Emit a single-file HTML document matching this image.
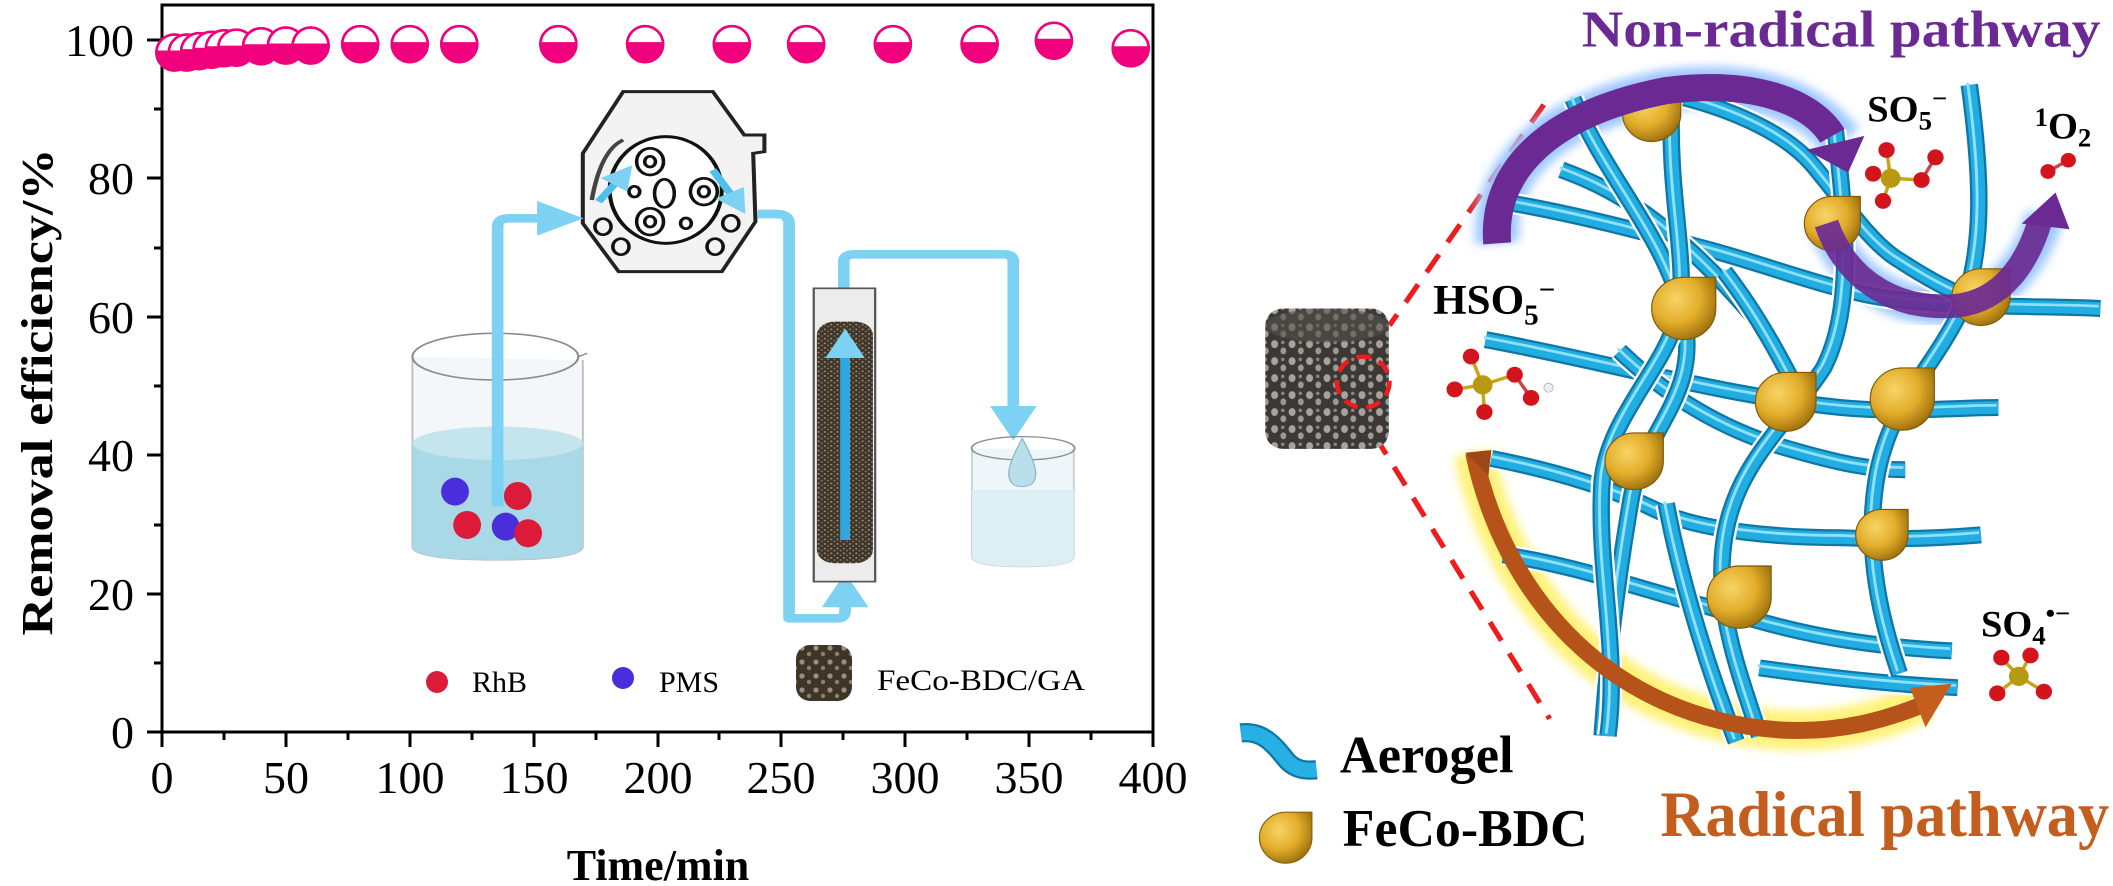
<!DOCTYPE html>
<html><head><meta charset="utf-8">
<style>
html,body{margin:0;padding:0;background:#fff;}
svg{display:block;}
</style></head>
<body>
<svg width="2113" height="886" viewBox="0 0 2113 886" xmlns="http://www.w3.org/2000/svg">
<defs>
  <radialGradient id="gold" cx="0.38" cy="0.35" r="0.7">
    <stop offset="0" stop-color="#f8d466"/>
    <stop offset="0.55" stop-color="#e2ad2a"/>
    <stop offset="1" stop-color="#9a6d0c"/>
  </radialGradient>
  <pattern id="gran" width="14" height="14" patternUnits="userSpaceOnUse">
    <rect width="14" height="14" fill="#3e3528"/>
    <circle cx="4" cy="4" r="2.6" fill="#9a8f7c"/>
    <circle cx="11" cy="10" r="2.2" fill="#8a806e"/>
  </pattern>
  <pattern id="gran2" width="30" height="30" patternUnits="userSpaceOnUse">
    <rect width="30" height="30" fill="#3b3836"/>
    <ellipse cx="8" cy="8" rx="6" ry="7" fill="#a7a39c"/>
    <ellipse cx="23" cy="20" rx="5" ry="6" fill="#9d9992"/>
    <circle cx="22" cy="5" r="3" fill="#8d8881"/>
  </pattern>
  <filter id="blur" x="-20%" y="-20%" width="140%" height="140%"><feGaussianBlur stdDeviation="8"/></filter>
  <marker id="ah" markerWidth="4" markerHeight="4" refX="2" refY="2" orient="auto" markerUnits="strokeWidth">
    <path d="M0,0 L4,2 L0,4 Z" fill="#7dd1f3"/>
  </marker>
</defs>

<!-- ================= PLOT ================= -->
<rect x="162" y="5" width="991" height="727" fill="none" stroke="#000" stroke-width="3"/>
<g stroke="#000" stroke-width="3">
  <line x1="147" y1="40" x2="162" y2="40"/><line x1="147" y1="178" x2="162" y2="178"/>
  <line x1="147" y1="317" x2="162" y2="317"/><line x1="147" y1="455" x2="162" y2="455"/>
  <line x1="147" y1="594" x2="162" y2="594"/><line x1="147" y1="732" x2="162" y2="732"/>
  <line x1="154" y1="109" x2="162" y2="109"/><line x1="154" y1="248" x2="162" y2="248"/>
  <line x1="154" y1="386" x2="162" y2="386"/><line x1="154" y1="525" x2="162" y2="525"/>
  <line x1="154" y1="663" x2="162" y2="663"/>
  <line x1="162" y1="732" x2="162" y2="747"/><line x1="286" y1="732" x2="286" y2="747"/>
  <line x1="410" y1="732" x2="410" y2="747"/><line x1="534" y1="732" x2="534" y2="747"/>
  <line x1="658" y1="732" x2="658" y2="747"/><line x1="781" y1="732" x2="781" y2="747"/>
  <line x1="905" y1="732" x2="905" y2="747"/><line x1="1029" y1="732" x2="1029" y2="747"/>
  <line x1="1153" y1="732" x2="1153" y2="747"/>
  <line x1="224" y1="732" x2="224" y2="740"/><line x1="348" y1="732" x2="348" y2="740"/>
  <line x1="472" y1="732" x2="472" y2="740"/><line x1="596" y1="732" x2="596" y2="740"/>
  <line x1="719" y1="732" x2="719" y2="740"/><line x1="843" y1="732" x2="843" y2="740"/>
  <line x1="967" y1="732" x2="967" y2="740"/><line x1="1091" y1="732" x2="1091" y2="740"/>
</g>
<g font-family="Liberation Serif, serif" font-size="46" fill="#000" text-anchor="end">
  <text x="134" y="56">100</text><text x="134" y="194">80</text><text x="134" y="333">60</text>
  <text x="134" y="471">40</text><text x="134" y="610">20</text><text x="134" y="748">0</text>
</g>
<g font-family="Liberation Serif, serif" font-size="46" fill="#000" text-anchor="middle">
  <text x="162" y="793">0</text><text x="286" y="793">50</text><text x="410" y="793">100</text>
  <text x="534" y="793">150</text><text x="658" y="793">200</text><text x="781" y="793">250</text>
  <text x="905" y="793">300</text><text x="1029" y="793">350</text><text x="1153" y="793">400</text>
</g>
<text x="658" y="880" font-family="Liberation Serif, serif" font-weight="bold" font-size="44" text-anchor="middle">Time/min</text>
<text transform="translate(52,392) rotate(-90)" font-family="Liberation Serif, serif" font-weight="bold" font-size="44" text-anchor="middle" textLength="487" lengthAdjust="spacingAndGlyphs">Removal efficiency/%</text>

<g id="pts" stroke="#f0007d" stroke-width="2.5"></g>

<!-- ================= INSET ================= -->
<g transform="translate(390,90) scale(0.4484,0.3333)">
  <path d="M50,800 L50,1370 Q50,1410 240,1410 Q430,1410 430,1370 L430,810" fill="#f4f7f9" stroke="#b8bcc0" stroke-width="4"/>
  <path d="M50,1060 L50,1370 Q50,1410 240,1410 Q430,1410 430,1370 L430,1060 Z" fill="#a9d8e6"/>
  <ellipse cx="240" cy="1060" rx="190" ry="50" fill="#c4e4ee"/>
  <ellipse cx="235" cy="800" rx="185" ry="70" fill="none" stroke="#8a8e92" stroke-width="5"/>
  <path d="M420,800 L440,790" stroke="#8a8e92" stroke-width="4"/>
  <polygon points="525,5 720,5 790,135 835,135 835,185 810,190 815,395 740,545 510,545 430,400 430,190 520,5" fill="#f3f3f3" stroke="#222" stroke-width="9"/>
  <path d="M450,330 Q470,180 520,150" stroke="#444" stroke-width="10" fill="none"/>
  <ellipse cx="615" cy="300" rx="125" ry="160" fill="#fff" stroke="#111" stroke-width="9"/>
  <g fill="none" stroke="#111" stroke-width="8">
    <ellipse cx="580" cy="215" rx="30" ry="40"/><ellipse cx="580" cy="215" rx="12" ry="16"/>
    <ellipse cx="700" cy="305" rx="30" ry="40"/><ellipse cx="700" cy="305" rx="12" ry="16"/>
    <ellipse cx="580" cy="395" rx="30" ry="40"/><ellipse cx="580" cy="395" rx="12" ry="16"/>
    <ellipse cx="612" cy="310" rx="22" ry="42"/>
    <ellipse cx="545" cy="305" rx="12" ry="16"/><ellipse cx="660" cy="400" rx="12" ry="16"/>
    <ellipse cx="475" cy="410" rx="18" ry="24"/><ellipse cx="515" cy="470" rx="18" ry="24"/>
    <ellipse cx="760" cy="400" rx="18" ry="24"/><ellipse cx="725" cy="470" rx="18" ry="24"/>
  </g>
  <line x1="465" y1="335" x2="520" y2="255" stroke="#4fc0ec" stroke-width="18" marker-end="url(#ah)"/>
  <line x1="720" y1="240" x2="775" y2="340" stroke="#4fc0ec" stroke-width="18" marker-end="url(#ah)"/>
  <g fill="none" stroke="#7dd1f3" stroke-width="26" stroke-linejoin="round">
    <path d="M240,1250 L240,410 Q240,385 265,385 L380,385" marker-end="url(#ah)"/>
    <path d="M820,372 L860,372 Q890,372 890,400 L890,1585 L1000,1585 Q1015,1585 1015,1560 L1015,1500" marker-end="url(#ah)"/>
    <path d="M1012,600 L1012,515 Q1012,493 1035,493 L1370,493 Q1390,493 1390,515 L1390,1000" marker-end="url(#ah)"/>
  </g>
  <rect x="945" y="595" width="137" height="880" fill="#ececec" stroke="#555" stroke-width="5"/>
  <rect x="952" y="695" width="125" height="725" rx="40" fill="url(#gran)"/>
  <line x1="1015" y1="1350" x2="1015" y2="760" stroke="#2fa8de" stroke-width="22" marker-end="url(#ah)"/>
  <path d="M1298,1075 L1298,1400 Q1298,1430 1410,1430 Q1525,1430 1525,1400 L1525,1080" fill="#eef6f9" stroke="#c4d0d6" stroke-width="4"/>
  <path d="M1298,1200 L1298,1400 Q1298,1430 1410,1430 Q1525,1430 1525,1400 L1525,1200 Z" fill="#ddeff5"/>
  <ellipse cx="1412" cy="1075" rx="115" ry="35" fill="none" stroke="#8a8e92" stroke-width="4"/>
  <path d="M1410,1045 Q1380,1120 1380,1150 Q1380,1190 1410,1190 Q1440,1190 1440,1150 Q1440,1120 1410,1045 Z" fill="#b8dfea" stroke="#8fb7c4" stroke-width="3"/>
  <ellipse cx="145" cy="1205" rx="31" ry="42" fill="#4a2ddb"/>
  <ellipse cx="285" cy="1218" rx="31" ry="42" fill="#dc1b3a"/>
  <ellipse cx="172" cy="1305" rx="31" ry="42" fill="#dc1b3a"/>
  <ellipse cx="258" cy="1310" rx="31" ry="42" fill="#4a2ddb"/>
  <ellipse cx="308" cy="1330" rx="31" ry="42" fill="#dc1b3a"/>
</g>

<circle cx="437" cy="682" r="11" fill="#dc1b3a"/>
<text x="472" y="692" font-family="Liberation Serif, serif" font-size="30">RhB</text>
<circle cx="623" cy="678" r="11" fill="#4a2ddb"/>
<text x="659" y="692" font-family="Liberation Serif, serif" font-size="30">PMS</text>
<rect x="796" y="645" width="56" height="56" rx="14" fill="url(#gran)"/>
<text x="877" y="690" font-family="Liberation Serif, serif" font-size="30" textLength="208" lengthAdjust="spacingAndGlyphs">FeCo-BDC/GA</text>

<!-- ================= RIGHT PANEL ================= -->
<g transform="translate(1200,0) scale(0.5828,0.566)">
  <g stroke="#ee1c1c" stroke-width="9" stroke-dasharray="38,26" fill="none">
    <line x1="590" y1="185" x2="325" y2="575"/>
    <line x1="300" y1="770" x2="600" y2="1270"/>
  </g>
  <rect x="112" y="545" width="212" height="248" rx="30" fill="url(#gran2)"/>
  <ellipse cx="218" cy="575" rx="106" ry="30" fill="#55514d" opacity="0.6"/>
  <circle cx="280" cy="675" r="45" fill="none" stroke="#ee1c1c" stroke-width="8" stroke-dasharray="25,15"/>

  <path d="M470,800 C520,1050 700,1270 1000,1290 C1100,1295 1180,1270 1240,1240" fill="none" stroke="#fff27a" stroke-width="70" filter="url(#blur)"/>
  <path d="M510,430 C500,300 600,200 800,160 C950,140 1050,180 1100,250" fill="none" stroke="#9fc8ff" stroke-width="75" filter="url(#blur)"/>
  <path d="M1075,395 C1110,500 1200,550 1300,540 C1380,530 1430,450 1450,380" fill="none" stroke="#9fc8ff" stroke-width="65" filter="url(#blur)"/>

  <g id="fibers" fill="none" stroke-linecap="butt"></g>
  <g id="drops"></g>

  <path d="M510,430 C500,300 600,200 800,160 C950,140 1050,180 1085,240" fill="none" stroke="#6b2a93" stroke-width="48"/>
  <polygon points="1040,265 1140,240 1112,305" fill="#6b2a93"/>
  <path d="M1075,395 C1110,500 1200,550 1300,540 C1380,530 1420,460 1440,395" fill="none" stroke="#6b2a93" stroke-width="42" opacity="0.92"/>
  <polygon points="1410,395 1468,340 1492,405" fill="#6b2a93"/>
  <path d="M470,800 C520,1050 700,1270 1000,1290 C1100,1295 1180,1270 1240,1245" fill="none" stroke="#b5531a" stroke-width="30"/>
  <path d="M455,800 L500,795 L495,840 Z" fill="#a0471a"/>
  <polygon points="1218,1215 1290,1208 1245,1285" fill="#c35e1e"/>

  <g id="mols"></g>

  <g font-family="Liberation Serif, serif" font-weight="bold">
    <text x="655" y="82" font-size="92" fill="#6b2a93" textLength="890" lengthAdjust="spacingAndGlyphs">Non-radical pathway</text>
    <text x="790" y="1477" font-size="114" fill="#c35e1e" textLength="770" lengthAdjust="spacingAndGlyphs">Radical pathway</text>
    <text x="240" y="1365" font-size="94" fill="#000" textLength="298" lengthAdjust="spacingAndGlyphs">Aerogel</text>
    <text x="245" y="1495" font-size="94" fill="#000" textLength="420" lengthAdjust="spacingAndGlyphs">FeCo-BDC</text>
    <text x="400" y="555" font-size="74">HSO<tspan font-size="50" dy="18">5</tspan><tspan font-size="50" dy="-45">−</tspan></text>
    <text x="1145" y="215" font-size="66">SO<tspan font-size="46" dy="14">5</tspan><tspan font-size="46" dy="-40">−</tspan></text>
    <text x="1432" y="245" font-size="66"><tspan font-size="46" dy="-22">1</tspan><tspan dy="22">O</tspan><tspan font-size="46" dy="14">2</tspan></text>
    <text x="1340" y="1125" font-size="66">SO<tspan font-size="46" dy="14">4</tspan><tspan font-size="46" dy="-40">•−</tspan></text>
  </g>
  <path d="M70,1295 C110,1290 130,1320 150,1345 C165,1360 180,1362 200,1360" fill="none" stroke="#0f77a6" stroke-width="34"/>
  <path d="M70,1295 C110,1290 130,1320 150,1345 C165,1360 180,1362 200,1360" fill="none" stroke="#27b0e4" stroke-width="26"/>
  <path d="M147,1480 m-45,0 a45,45 0 1 0 90,0 l0,-45 l-45,0 a45,45 0 0 0 -45,45 z" fill="url(#gold)" stroke="#8a610a" stroke-width="2"/>
</g>

<script>
(function(){
  var NS="http://www.w3.org/2000/svg";
  function el(p,tag,a){var e=document.createElementNS(NS,tag);for(var k in a)e.setAttribute(k,a[k]);p.appendChild(e);return e;}
  var g=document.getElementById("pts");
  var pts=[[5,98.2],[10,98.2],[15,98.4],[20,98.6],[25,98.8],[30,98.9],[40,99.1],[50,99.2],[60,99.2],[80,99.4],[100,99.4],[120,99.4],[160,99.4],[195,99.4],[230,99.4],[260,99.4],[295,99.4],[330,99.4],[360,99.9],[391,98.8]];
  pts.forEach(function(p){
    var cx=162+2.4775*p[0], cy=732-6.92*p[1], r=18;
    el(g,"circle",{cx:cx,cy:cy,r:r,fill:"#fff"});
    el(g,"path",{d:"M"+(cx-17.9)+","+(cy-2)+" A18 18 0 1 0 "+(cx+17.9)+","+(cy-2)+" Z",fill:"#f0007d",stroke:"none"});
    el(g,"circle",{cx:cx,cy:cy,r:r,fill:"none"});
  });
  var f=document.getElementById("fibers");
  var F=[
   "M540,360 C650,380 760,410 870,440 C980,470 1100,520 1200,530 C1350,545 1450,540 1545,545",
   "M490,600 C700,640 900,700 1100,720 C1200,730 1300,720 1370,720",
   "M620,300 C700,330 800,380 950,560",
   "M820,170 C900,190 1000,230 1050,290 C1100,350 1150,430 1200,460 C1260,500 1300,520 1330,530",
   "M500,810 C600,830 700,860 780,900 C860,940 1000,950 1100,950 C1200,955 1280,950 1340,945",
   "M720,620 C800,700 900,760 1000,790 C1100,820 1150,830 1210,830",
   "M520,980 C650,1000 750,1040 900,1080 C1000,1110 1100,1140 1290,1150",
   "M960,1180 C1100,1200 1200,1210 1300,1215",
   "M640,175 C700,320 800,420 830,560 C860,700 760,760 740,880 C720,1000 700,1150 690,1300",
   "M810,160 C800,350 840,460 820,560 C790,660 700,740 690,850 C680,1000 720,1150 700,1300",
   "M800,890 C820,1000 860,1150 920,1310",
   "M1090,230 C1110,400 1120,550 1070,650 C1000,760 920,820 900,950 C880,1080 930,1200 960,1300",
   "M1320,150 C1340,300 1350,450 1300,560 C1250,660 1180,720 1160,850 C1140,980 1170,1100 1200,1190",
   "M900,480 C960,560 1000,640 1040,720"
  ];
  F.forEach(function(d){
    el(f,"path",{d:d,stroke:"#ffffff",'stroke-width':38});
    el(f,"path",{d:d,stroke:"#0f77a6",'stroke-width':30});
    el(f,"path",{d:d,stroke:"#22ade2",'stroke-width':22});
    el(f,"path",{d:d,stroke:"#8fe0fa",'stroke-width':5,transform:"translate(-3,-4)"});
  });
  var dg=document.getElementById("drops");
  [[775,200,50],[1085,395,48],[830,545,55],[1340,525,50],[1005,710,52],[1205,705,55],[745,815,50],[1170,945,45],[925,1055,55]].forEach(function(p){
    var x=p[0],y=p[1],r=p[2];
    el(dg,"path",{d:"M"+(x-r)+","+y+" A"+r+" "+r+" 0 1 0 "+(x+r)+","+y+" L"+(x+r)+","+(y-r)+" L"+x+","+(y-r)+" A"+r+" "+r+" 0 0 0 "+(x-r)+","+y+" Z",fill:"url(#gold)",stroke:"#7d5808",'stroke-width':2});
  });
  var mg=document.getElementById("mols");
  function mol(S,Os,extra){
    Os.forEach(function(o){el(mg,"line",{x1:S[0],y1:S[1],x2:o[0],y2:o[1],stroke:"#c9a31a",'stroke-width':6});});
    (extra||[]).forEach(function(l){el(mg,"line",{x1:l[0],y1:l[1],x2:l[2],y2:l[3],stroke:"#c44",'stroke-width':6});});
    Os.forEach(function(o){el(mg,"circle",{cx:o[0],cy:o[1],r:14,fill:"#d4141c"});});
    el(mg,"circle",{cx:S[0],cy:S[1],r:17,fill:"#b59a12"});
  }
  mol([485,680],[[465,630],[437,688],[488,728],[540,662]],[[540,662,568,703]]);
  el(mg,"circle",{cx:568,cy:703,r:14,fill:"#d4141c"});
  el(mg,"circle",{cx:598,cy:685,r:8,fill:"#eee",stroke:"#999"});
  mol([1185,315],[[1178,265],[1155,307],[1172,355],[1238,318]],[[1238,318,1262,278]]);
  el(mg,"circle",{cx:1262,cy:278,r:14,fill:"#d4141c"});
  el(mg,"line",{x1:1455,y1:303,x2:1490,y2:283,stroke:"#c44",'stroke-width':6});
  el(mg,"circle",{cx:1455,cy:303,r:13,fill:"#d4141c"});
  el(mg,"circle",{cx:1490,cy:283,r:13,fill:"#d4141c"});
  mol([1405,1195],[[1375,1162],[1425,1158],[1368,1225],[1448,1222]]);
})();
</script>
</svg>
</body></html>
